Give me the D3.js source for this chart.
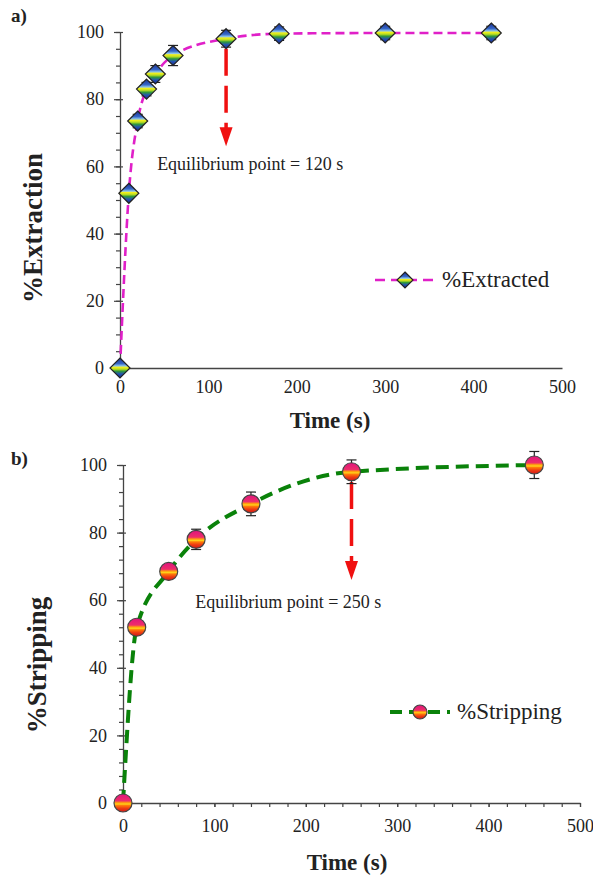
<!DOCTYPE html>
<html>
<head>
<meta charset="utf-8">
<script src="https://cdn.jsdelivr.net/npm/d3@7"></script>
<style>
  body { margin: 0; background: #fff; }
  .domain { stroke: #444; stroke-width: 1.3; }
  .tick line { stroke: #444; stroke-width: 1.2; }
</style>
</head>
<body>
<svg width="593" height="876"></svg>
<script>
// panel a) extraction kinetics
const timeA = [0, 10, 20, 30, 40, 60, 120, 180, 300, 420];
const extractA = [0, 52, 73.5, 83, 87.5, 93, 98, 99.5, 99.7, 99.7];
const errA = [0.5, 1.5, 2, 2, 2.5, 3, 2.5, 2, 2, 2];

// panel b) stripping kinetics
const timeB = [0, 15, 50, 80, 140, 250, 450];
const stripB = [0, 52, 68.5, 78, 88.5, 98, 100];
const errB = [0.5, 1.5, 2, 3, 3.5, 3.5, 4];

const xTicks = [0, 100, 200, 300, 400, 500];
const yTicks = [0, 20, 40, 60, 80, 100];

const SERIF = "Liberation Serif";

var svg = d3.select("svg");
var defs = svg.append("defs");

// rainbow diamond fill
var gd = defs.append("linearGradient").attr("id", "gDiamond")
    .attr("x1", 0).attr("y1", 0).attr("x2", 0).attr("y2", 1);
[[0, "#1c2f8f"], [0.28, "#3566c8"], [0.4, "#8fc6e8"], [0.46, "#f4f01c"],
 [0.56, "#b8dc22"], [0.66, "#2f9a3a"], [0.8, "#2452b4"], [1, "#1a2a88"]]
  .forEach(function(s) { gd.append("stop").attr("offset", s[0]).attr("stop-color", s[1]); });

// pink/orange ball fill
var gc = defs.append("linearGradient").attr("id", "gBall")
    .attr("x1", 0).attr("y1", 0).attr("x2", 0).attr("y2", 1);
[[0, "#e0147e"], [0.38, "#ee2e6a"], [0.48, "#ff9a10"], [0.56, "#ffd21a"],
 [0.64, "#ff7a08"], [0.8, "#ee3a12"], [1, "#d01818"]]
  .forEach(function(s) { gc.append("stop").attr("offset", s[0]).attr("stop-color", s[1]); });

function diamond(g, r) {
  g.append("path")
    .attr("d", "M0," + (-r) + "L" + r + ",0L0," + r + "L" + (-r) + ",0Z")
    .attr("fill", "url(#gDiamond)")
    .attr("stroke", "#222").attr("stroke-width", 1.2);
}

function ball(g, r) {
  g.append("circle").attr("r", r)
    .attr("fill", "url(#gBall)")
    .attr("stroke", "#444").attr("stroke-width", 1.2);
}

function label(sel, size, bold) {
  return sel.style("font-family", SERIF)
    .style("font-size", size + "px")
    .style("font-weight", bold ? "bold" : "normal")
    .style("fill", "#222");
}

function drawPanel(cfg) {
  var x = d3.scaleLinear().domain([0, 500]).range(cfg.xRange);
  var y = d3.scaleLinear().domain([0, 100]).range(cfg.yRange);
  var g = svg.append("g");

  // minor y ticks
  g.append("g")
      .attr("transform", "translate(" + cfg.xRange[0] + ",0)")
      .call(d3.axisLeft(y).tickValues(d3.range(0, 101, cfg.yMinor)).tickSize(4).tickFormat(""))
      .call(function(a) { a.select(".domain").remove(); });

  var ya = g.append("g")
      .attr("transform", "translate(" + cfg.xRange[0] + ",0)")
      .call(d3.axisLeft(y).tickValues(yTicks).tickSizeInner(6).tickSizeOuter(0).tickPadding(10));
  ya.attr("font-family", SERIF);
  ya.selectAll(".tick line").attr("x1", 3);
  label(ya.selectAll(".tick text"), 18);

  var xa = g.append("g")
      .attr("transform", "translate(0," + cfg.yRange[0] + ")")
      .call(d3.axisBottom(x).tickValues(xTicks).tickSize(cfg.xMinor ? 4 : 0).tickSizeOuter(0).tickPadding(12));
  xa.attr("font-family", SERIF);
  label(xa.selectAll(".tick text"), 18);
  if (cfg.xMinor) {
    g.append("g")
        .attr("transform", "translate(0," + cfg.yRange[0] + ")")
        .call(d3.axisBottom(x).tickValues(d3.range(0, 501, cfg.xMinor)).tickSize(4).tickFormat(""))
        .call(function(a) { a.select(".domain").remove(); });
  }

  // axis titles
  label(g.append("text"), 23, true)
      .attr("x", cfg.xTitle[0]).attr("y", cfg.xTitle[1])
      .attr("text-anchor", "middle")
      .text("Time (s)");
  label(g.append("text"), 27, true)
      .attr("transform", "translate(" + cfg.yTitle[0] + "," + cfg.yTitle[1] + ") rotate(-90)")
      .attr("text-anchor", "middle")
      .text(cfg.yLabel);
  label(g.append("text"), 19, true)
      .attr("x", 11).attr("y", cfg.tag[1])
      .text(cfg.tag[0]);

  // equilibrium arrow
  var ax = x(cfg.arrow[0]), ay0 = y(cfg.arrow[1]), ay1 = y(cfg.arrow[2]);
  g.append("line")
      .attr("x1", ax).attr("x2", ax).attr("y1", ay0).attr("y2", ay1 - 18)
      .attr("stroke", "#f01010").attr("stroke-width", 3.5)
      .attr("stroke-dasharray", "27,10");
  g.append("path")
      .attr("d", "M" + (ax - 6.5) + "," + (ay1 - 19) + "L" + (ax + 6.5) + "," + (ay1 - 19) + "L" + ax + "," + ay1 + "Z")
      .attr("fill", "#f01010");
  label(g.append("text"), 18)
      .attr("x", x(cfg.note[0])).attr("y", y(cfg.note[1]))
      .text(cfg.note[2]);

  // fitted dashed curve
  var pts = cfg.t.map(function(t, i) { return [t, cfg.v[i]]; });
  g.append("path")
      .datum(pts)
      .attr("fill", "none")
      .attr("stroke", cfg.lineColor).attr("stroke-width", cfg.lineWidth)
      .attr("stroke-dasharray", cfg.dash)
      .attr("d", d3.line().x(function(d) { return x(d[0]); }).y(function(d) { return y(d[1]); })
        .curve(d3.curveMonotoneX));

  // error bars
  var eb = g.append("g").attr("stroke", "#222").attr("stroke-width", 1.2);
  cfg.t.forEach(function(t, i) {
    var cx = x(t), lo = y(cfg.v[i] - cfg.err[i]), hi = y(Math.min(cfg.v[i] + cfg.err[i], 104));
    eb.append("line").attr("x1", cx).attr("x2", cx).attr("y1", lo).attr("y2", hi);
    eb.append("line").attr("x1", cx - 5).attr("x2", cx + 5).attr("y1", lo).attr("y2", lo);
    eb.append("line").attr("x1", cx - 5).attr("x2", cx + 5).attr("y1", hi).attr("y2", hi);
  });

  // markers
  g.append("g").selectAll("g")
    .data(pts)
    .enter().append("g")
      .attr("transform", function(d) { return "translate(" + x(d[0]) + "," + y(d[1]) + ")"; })
      .each(function() { cfg.marker(d3.select(this), cfg.markerSize); });

  // legend
  var lg = g.append("g").attr("transform", "translate(" + cfg.legend[0] + "," + cfg.legend[1] + ")");
  lg.append("line").attr("x1", 0).attr("x2", 60)
      .attr("stroke", cfg.lineColor).attr("stroke-width", cfg.lineWidth)
      .attr("stroke-dasharray", cfg.legendDash);
  cfg.marker(lg.append("g").attr("transform", "translate(30,0)"), cfg.markerSize - 2);
  label(lg.append("text"), 23)
      .attr("x", 67).attr("y", 7)
      .text(cfg.legendLabel);
}

drawPanel({
  t: timeA, v: extractA, err: errA,
  xRange: [120, 562], yRange: [368, 32],
  yMinor: 5, xMinor: 0,
  xTitle: [330, 428], yTitle: [42, 228], yLabel: "%Extraction", tag: ["a)", 22],
  arrow: [120, 95, 66], note: [42, 59, "Equilibrium point = 120 s"],
  lineColor: "#e020c8", lineWidth: 2.6, dash: "9,5", legendDash: "10,6",
  marker: diamond, markerSize: 10,
  legend: [375, 280], legendLabel: "%Extracted"
});

drawPanel({
  t: timeB, v: stripB, err: errB,
  xRange: [123, 580], yRange: [803, 465],
  yMinor: 4, xMinor: 20,
  xTitle: [347, 870], yTitle: [46, 665], yLabel: "%Stripping", tag: ["b)", 465],
  arrow: [250, 95, 66], note: [79, 57.7, "Equilibrium point = 250 s"],
  lineColor: "#0a820a", lineWidth: 4, dash: "13,7", legendDash: "12,7",
  marker: ball, markerSize: 9,
  legend: [390, 712], legendLabel: "%Stripping"
});
</script>
</body>
</html>
